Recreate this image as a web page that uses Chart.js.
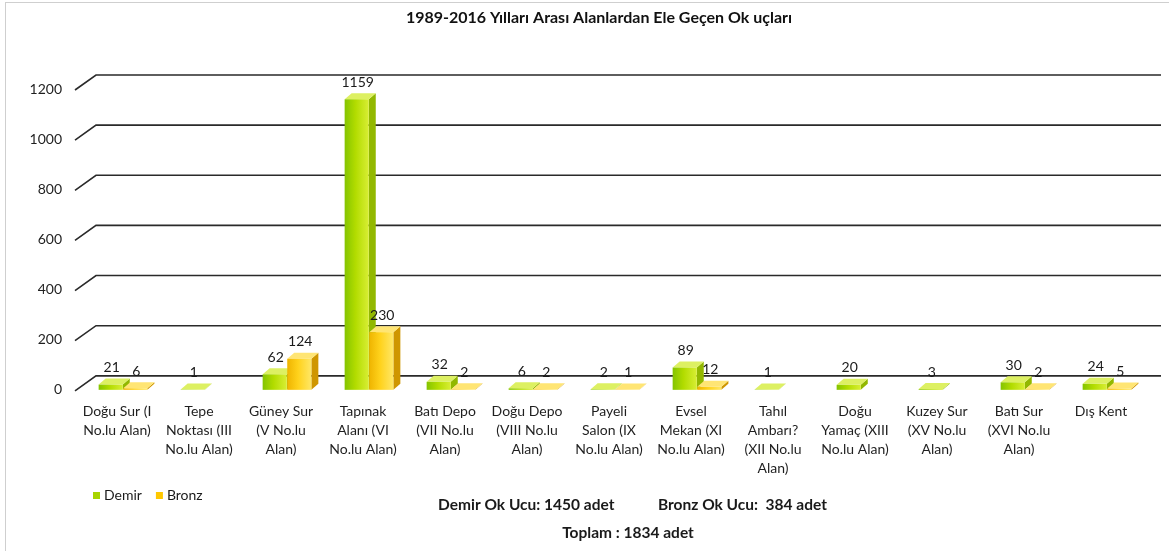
<!DOCTYPE html>
<html>
<head>
<meta charset="utf-8">
<script src="https://cdn.jsdelivr.net/npm/chart.js@4.4.1/dist/chart.umd.min.js"></script>
<style>
  html, body { margin: 0; padding: 0; background: #fff; overflow: hidden; }
  #frame { position: absolute; left: 5px; top: 2px; width: 1200px; height: 600px; border: 1px solid #cfcfcf; }
  #wrap { position: absolute; left: 0; top: 0; width: 1169px; height: 551px; }
</style>
</head>
<body>
<div id="frame"></div>
<div id="wrap"><canvas id="chart"></canvas></div>
<script>
// veriler
const categories = [
  ['Doğu Sur (I', 'No.lu Alan)'],
  ['Tepe', 'Noktası (III', 'No.lu Alan)'],
  ['Güney Sur', '(V No.lu', 'Alan)'],
  ['Tapınak', 'Alanı (VI', 'No.lu Alan)'],
  ['Batı Depo', '(VII No.lu', 'Alan)'],
  ['Doğu Depo', '(VIII No.lu', 'Alan)'],
  ['Payeli', 'Salon (IX', 'No.lu Alan)'],
  ['Evsel', 'Mekan (XI', 'No.lu Alan)'],
  ['Tahıl', 'Ambarı?', '(XII No.lu', 'Alan)'],
  ['Doğu', 'Yamaç (XIII', 'No.lu Alan)'],
  ['Kuzey Sur', '(XV No.lu', 'Alan)'],
  ['Batı Sur', '(XVI No.lu', 'Alan)'],
  ['Dış Kent'],
];
const demir = [21, 1, 62, 1159, 32, 6, 2, 89, 1, 20, 3, 30, 24];
const bronz = [6, null, 124, 230, 2, 2, 1, 12, null, null, null, 2, 5];
const yTicks = [0, 200, 400, 600, 800, 1000, 1200];
const seriesNames = ['Demir', 'Bronz'];
const chartTitle = '1989-2016 Yılları Arası Alanlardan Ele Geçen Ok uçları';
const totalsLine = ['Demir Ok Ucu: 1450 adet', 'Bronz Ok Ucu:  384 adet'];
const totalLine = 'Toplam : 1834 adet';

const FONT = 'Lato, "Open Sans", sans-serif';
const DX = 7, DY = 6;   // 3B derinlik
const SHIFT = 6;        // çubuklar arka düzleme doğru kayık

const FACES = [
  { front: ['#84c400', '#b2dc00', '#d8ee34'], top: '#ddf062', side: '#92b800', legend: '#a8d400' },
  { front: ['#efb400', '#ffd21c', '#ffe766'], top: '#ffe574', side: '#cf9600', legend: '#ffc800' },
];

// arka düzlemdeki eğik ızgara çizgileri
const grid3d = {
  id: 'grid3d',
  beforeDatasetsDraw(chart) {
    const { ctx, chartArea: { left }, scales: { y } } = chart;
    ctx.save();
    ctx.strokeStyle = '#2a2a2a';
    ctx.lineWidth = 1.6;
    yTicks.forEach(v => {
      const py = y.getPixelForValue(v);
      ctx.beginPath();
      ctx.moveTo(left - 1, py + 1);
      ctx.lineTo(left + 20, py - 14);
      ctx.lineTo(1161, py - 14);
      ctx.stroke();
    });
    ctx.restore();
  }
};

// çubukların ön, üst ve yan yüzleri + değer etiketleri
const bars3d = {
  id: 'bars3d',
  afterDatasetsDraw(chart) {
    const { ctx } = chart;
    const series = [demir, bronz];
    ctx.save();
    categories.forEach((_, i) => {
      series.forEach((data, ds) => {
        if (data[i] == null) return;
        const bar = chart.getDatasetMeta(ds).data[i];
        const { x, y, base, width } = bar.getProps(['x', 'y', 'base', 'width'], true);
        const l = x - width / 2 + SHIFT, r = x + width / 2 + SHIFT;
        const f = FACES[ds];
        // yan yüz
        ctx.fillStyle = f.side;
        ctx.beginPath();
        ctx.moveTo(r, base);
        ctx.lineTo(r + DX, base - DY);
        ctx.lineTo(r + DX, y - DY);
        ctx.lineTo(r, y);
        ctx.closePath();
        ctx.fill();
        // üst yüz
        ctx.fillStyle = f.top;
        ctx.beginPath();
        ctx.moveTo(l, y);
        ctx.lineTo(l + DX, y - DY);
        ctx.lineTo(r + DX, y - DY);
        ctx.lineTo(r, y);
        ctx.closePath();
        ctx.fill();
        // ön yüz
        const g = ctx.createLinearGradient(l, 0, r, 0);
        g.addColorStop(0, f.front[0]);
        g.addColorStop(0.45, f.front[1]);
        g.addColorStop(1, f.front[2]);
        ctx.fillStyle = g;
        ctx.fillRect(l, y, width, base - y);
      });
    });
    // değer etiketleri
    ctx.fillStyle = '#1a1a1a';
    ctx.font = '14px ' + FONT;
    ctx.textAlign = 'center';
    ctx.textBaseline = 'middle';
    series.forEach((data, ds) => {
      chart.getDatasetMeta(ds).data.forEach((bar, i) => {
        if (data[i] == null) return;
        ctx.fillText(String(data[i]), bar.x + SHIFT + 1, bar.y - DY - 11);
      });
    });
    ctx.restore();
  }
};

// başlık, lejant ve toplam yazıları
const notes = {
  id: 'notes',
  afterDraw(chart) {
    const { ctx } = chart;
    ctx.save();
    ctx.textBaseline = 'middle';
    ctx.fillStyle = '#111';
    ctx.textAlign = 'center';
    ctx.font = 'bold 16px ' + FONT;
    ctx.fillText(chartTitle, 599, 18);

    ctx.font = '14px ' + FONT;
    ctx.textAlign = 'left';
    let lx = 93;
    seriesNames.forEach((name, k) => {
      ctx.fillStyle = FACES[k].legend;
      ctx.fillRect(lx, 492, 7, 7);
      ctx.fillStyle = '#1a1a1a';
      ctx.fillText(name, lx + 11, 495);
      lx += 11 + ctx.measureText(name).width + 14;
    });
    ctx.font = 'bold 15.5px ' + FONT;
    ctx.fillText(totalsLine[0], 438, 505);
    ctx.fillText(totalsLine[1], 658, 505);
    ctx.textAlign = 'center';
    ctx.fillText(totalLine, 628, 533);
    ctx.restore();
  }
};

new Chart(document.getElementById('chart'), {
  type: 'bar',
  data: {
    labels: categories,
    datasets: [
      { label: seriesNames[0], data: demir, backgroundColor: 'rgba(0,0,0,0)',
        categoryPercentage: 0.6, barPercentage: 0.98 },
      { label: seriesNames[1], data: bronz, backgroundColor: 'rgba(0,0,0,0)',
        categoryPercentage: 0.6, barPercentage: 0.98 },
    ]
  },
  options: {
    responsive: true,
    maintainAspectRatio: false,
    animation: false,
    layout: { padding: { left: 20, right: 27, top: 89, bottom: 61 } },
    plugins: {
      legend: { display: false },
      tooltip: { enabled: false },
      title: { display: false },
    },
    scales: {
      x: {
        grid: { display: false, drawTicks: false },
        border: { display: false },
        ticks: {
          color: '#1f1f1f',
          font: { family: FONT, size: 14, lineHeight: 1.36 },
          maxRotation: 0,
          autoSkip: false,
          padding: 12,
        },
      },
      y: {
        min: 0,
        max: 1200,
        grid: { display: false, drawTicks: false },
        border: { display: false },
        afterFit(s) { s.width = 56; },
        ticks: {
          stepSize: 200,
          color: '#1f1f1f',
          font: { family: FONT, size: 14 },
          padding: 14,
          callback: v => String(v),
        },
      },
    },
  },
  plugins: [grid3d, bars3d, notes],
});
</script>
</body>
</html>
